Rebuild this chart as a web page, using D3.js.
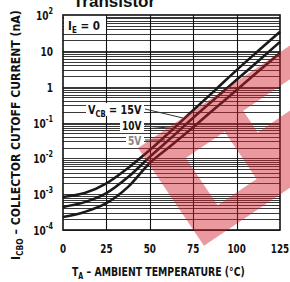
<!DOCTYPE html>
<html><head><meta charset="utf-8">
<script src="https://cdn.jsdelivr.net/npm/d3@7"></script>
<style>
html,body{margin:0;padding:0;background:#fff;}
svg{display:block;}
text{font-family:"Liberation Sans Narrow","DejaVu Sans Condensed",sans-serif;font-weight:bold;fill:#111;}
</style></head>
<body>
<script>
// ---- data ----
const temps = [0, 12.5, 25, 37.5, 50, 62.5, 75, 87.5, 100, 112.5, 125];
const icbo15 = [8.3e-4, 1.07e-3, 2.0e-3, 5.4e-3, 1.7e-2, 6.0e-2, 0.22, 0.79, 2.9, 10, 34];
const icbo10 = [4.4e-4, 6.0e-4, 1.07e-3, 3.0e-3, 1.1e-2, 3.8e-2, 0.135, 0.46, 1.55, 5.2, 17.8];
const icbo5  = [2.3e-4, 3.2e-4, 5.6e-4, 1.6e-3, 7.4e-3, 2.3e-2, 0.074, 0.245, 0.81, 2.7, 8.7];
const seriesNames = ["15V", "10V", "5V"];
const xTicks = [0, 25, 50, 75, 100, 125];
const yTickExps = [2, 1, 0, -1, -2, -3, -4];

const W = 290, H = 282;
const m = {l: 63, r: 280, t: 15, b: 230};
const svg = d3.select("body").append("svg").attr("width", W).attr("height", H);

const x = d3.scaleLinear().domain([0, 125]).range([m.l, m.r]);
const y = d3.scaleLog().domain([1e-4, 100]).range([m.b, m.t]);

// scale a text horizontally to a target width
function fit(t, tx, ty, width, extra) {
  const w = t.node().getBBox().width;
  const k = width / w;
  t.attr("transform", `translate(${tx},${ty}) ${extra || ""} scale(${k},1)`);
}

// horizontal log grid
const gridVals = [];
for (let k = -4; k <= 1; k++) for (let j = 1; j <= 9; j++) gridVals.push(j * Math.pow(10, k));
svg.append("g").selectAll("line").data(gridVals).join("line")
  .attr("x1", m.l).attr("x2", m.r)
  .attr("y1", d => Math.round(y(d)) + 0.5).attr("y2", d => Math.round(y(d)) + 0.5)
  .attr("stroke", "#222").attr("stroke-width", 0.9);

// vertical grid
svg.append("g").selectAll("line").data([25, 50, 75, 100]).join("line")
  .attr("x1", d => Math.round(x(d)) + 0.5).attr("x2", d => Math.round(x(d)) + 0.5)
  .attr("y1", m.t).attr("y2", m.b)
  .attr("stroke", "#111").attr("stroke-width", 1.1);

// curves
const line = d3.line().x(d => x(d[0])).y(d => y(d[1])).curve(d3.curveMonotoneX);
[icbo15, icbo10, icbo5].forEach(vals => {
  svg.append("path").datum(temps.map((t, i) => [t, vals[i]]))
    .attr("d", line).attr("fill", "none")
    .attr("stroke", "#1a1a1a").attr("stroke-width", 2.6);
});

// frame
svg.append("rect").attr("x", m.l).attr("y", m.t).attr("width", m.r - m.l).attr("height", m.b - m.t)
  .attr("fill", "none").attr("stroke", "#111").attr("stroke-width", 1.6);

// I_E = 0 box
svg.append("rect").attr("x", m.l + 1).attr("y", m.t + 1).attr("width", 42).attr("height", 18).attr("fill", "#fff");
const ie = svg.append("text").attr("font-size", 13);
ie.append("tspan").text("I");
ie.append("tspan").attr("font-size", 9).attr("dy", 3).text("E");
ie.append("tspan").attr("dy", -3).text(" = 0");
fit(ie, 68, 30, 32);

// series labels
const labPos = [[88, 114, 54], [122, 130, 20], [128, 145, 14]];
labPos.forEach(p => {
  svg.append("rect").attr("x", p[0] - 2).attr("y", p[1] - 11).attr("width", p[2] + 4).attr("height", 13).attr("fill", "#fff");
});
const t15 = svg.append("text").attr("font-size", 12);
t15.append("tspan").text("V");
t15.append("tspan").attr("font-size", 8.5).attr("dy", 3).text("CB");
t15.append("tspan").attr("dy", -3).text(" = " + seriesNames[0]);
fit(t15, 88, 114, 54);
const t10 = svg.append("text").attr("font-size", 12).text(seriesNames[1]);
fit(t10, 122, 130, 20);
const t5 = svg.append("text").attr("font-size", 12).style("fill", "#888").text(seriesNames[2]);
fit(t5, 128, 145, 14);
// leaders
[[145, 109, 183, 118], [145, 126, 180, 129], [145, 140, 165, 140]].forEach(l => {
  svg.append("line").attr("x1", l[0]).attr("y1", l[1]).attr("x2", l[2]).attr("y2", l[3])
    .attr("stroke", "#333").attr("stroke-width", 1);
});

// x tick labels
svg.append("g").selectAll("text").data(xTicks).join("text")
  .attr("transform", d => `translate(${Math.min(x(d), 281)},253) scale(0.78,1)`)
  .attr("text-anchor", "middle").attr("font-size", 12.5)
  .text(d => d);

// y tick labels
yTickExps.forEach(e => {
  const t = svg.append("text")
    .attr("transform", `translate(53,${y(Math.pow(10, e)) + 5}) scale(0.8,1)`)
    .attr("text-anchor", "end").attr("font-size", 12.5);
  if (e === 1) t.text("10");
  else if (e === 0) t.text("1");
  else {
    t.append("tspan").text("10");
    t.append("tspan").attr("font-size", 9).attr("dy", -6).text(e < 0 ? "-" + (-e) : e);
  }
});

// axis titles
const xt = svg.append("text").attr("font-size", 13);
xt.append("tspan").text("T");
xt.append("tspan").attr("font-size", 9).attr("dy", 3).text("A");
xt.append("tspan").attr("dy", -3).text(" \u2013 AMBIENT TEMPERATURE (\u00B0C)");
fit(xt, 72, 276, 173);

const yt = svg.append("text").attr("font-size", 13);
yt.append("tspan").text("I");
yt.append("tspan").attr("font-size", 9).attr("dy", 3).text("CBO");
yt.append("tspan").attr("dy", -3).text(" \u2013 COLLECTOR CUTOFF CURRENT (nA)");
fit(yt, 20, 260, 250, "rotate(-90)");

// title (cut at top)
svg.append("text").attr("x", 114).attr("y", 7).attr("text-anchor", "middle")
  .attr("font-size", 17).style("font-family", "'Liberation Sans',Arial,sans-serif").text("Transistor");

// watermark
const wm = svg.append("g").attr("transform", "translate(138,148) rotate(-34)");
wm.append("path")
  .attr("d", "M0,0H260V118H0Z M34,35H81V92H34Z M108,28H260V54H108Z")
  .attr("fill-rule", "evenodd").attr("fill", "rgb(208,30,40)").attr("opacity", 0.45);
</script>
</body></html>
